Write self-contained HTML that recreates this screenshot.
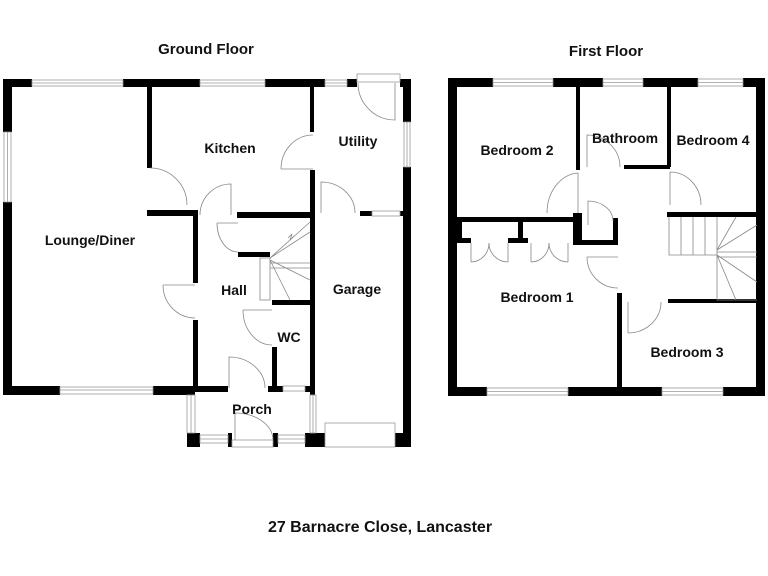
<!DOCTYPE html>
<html><head><meta charset="utf-8"><style>
html,body{margin:0;padding:0;background:#fff;}
svg{display:block}
text{font-family:"Liberation Sans",Arial,sans-serif;font-weight:bold;fill:#111;}
</style></head><body>
<svg width="768" height="576" viewBox="0 0 768 576" xmlns="http://www.w3.org/2000/svg">
<g fill="#000">
<rect x="3" y="79" width="29" height="8"/>
<rect x="123" y="79" width="77" height="8"/>
<rect x="265" y="79" width="60" height="8"/>
<rect x="347" y="79" width="10" height="8"/>
<rect x="400" y="79" width="11" height="8"/>
<rect x="3" y="79" width="9" height="53"/>
<rect x="3" y="202" width="9" height="193"/>
<rect x="3" y="386" width="57" height="9"/>
<rect x="153" y="386" width="42" height="9"/>
<rect x="195" y="386" width="33" height="6"/>
<rect x="268" y="386" width="15" height="6"/>
<rect x="305" y="386" width="8" height="6"/>
<rect x="403" y="79" width="8" height="43"/>
<rect x="403" y="167" width="8" height="280"/>
<rect x="187" y="433" width="13" height="14"/>
<rect x="228" y="433" width="4" height="14"/>
<rect x="273" y="433" width="5" height="14"/>
<rect x="305" y="433" width="20" height="14"/>
<rect x="395" y="433" width="16" height="14"/>
<rect x="147" y="87" width="5" height="81"/>
<rect x="147" y="210" width="48" height="6"/>
<rect x="193" y="210" width="5" height="73"/>
<rect x="193" y="320" width="5" height="70"/>
<rect x="310" y="87" width="4" height="45"/>
<rect x="310" y="170" width="5" height="277"/>
<rect x="237" y="212" width="78" height="6"/>
<rect x="238" y="252" width="32" height="5"/>
<rect x="272" y="300" width="43" height="5"/>
<rect x="272" y="347" width="5" height="43"/>
<rect x="360" y="211" width="12" height="5"/>
<rect x="400" y="211" width="5" height="5"/>
<rect x="448" y="78" width="45" height="9"/>
<rect x="553" y="78" width="50" height="9"/>
<rect x="643" y="78" width="55" height="9"/>
<rect x="743" y="78" width="22" height="9"/>
<rect x="448" y="78" width="9" height="318"/>
<rect x="756" y="78" width="9" height="318"/>
<rect x="448" y="387" width="39" height="9"/>
<rect x="568" y="387" width="94" height="9"/>
<rect x="723" y="387" width="42" height="9"/>
<rect x="576" y="87" width="4" height="83"/>
<rect x="667" y="87" width="4" height="80"/>
<rect x="624" y="165" width="46" height="4"/>
<rect x="448" y="217" width="132" height="5"/>
<rect x="457" y="217" width="5" height="26"/>
<rect x="457" y="238" width="14" height="5"/>
<rect x="518" y="217" width="5" height="25"/>
<rect x="508" y="238" width="20" height="5"/>
<rect x="573" y="213" width="9" height="32"/>
<rect x="573" y="240" width="45" height="5"/>
<rect x="613" y="218" width="5" height="27"/>
<rect x="667" y="212" width="90" height="5"/>
<rect x="668" y="299" width="89" height="4"/>
<rect x="617" y="293" width="5" height="103"/>
</g>
<g fill="#fff" stroke="#999" stroke-width="0.8">
<rect x="32" y="80" width="91" height="6"/><line x1="32" y1="83" x2="123" y2="83"/>
<rect x="200" y="80" width="65" height="6"/><line x1="200" y1="83" x2="265" y2="83"/>
<rect x="325" y="80" width="22" height="6"/><line x1="325" y1="83" x2="347" y2="83"/>
<rect x="357" y="74" width="43" height="8"/>
<rect x="4" y="132" width="7" height="70"/><line x1="7.5" y1="132" x2="7.5" y2="202"/>
<rect x="404" y="122" width="6" height="45"/><line x1="407" y1="122" x2="407" y2="167"/>
<rect x="60" y="387" width="93" height="7"/><line x1="60" y1="390" x2="153" y2="390"/>
<rect x="283" y="386" width="22" height="5"/>
<rect x="372" y="211" width="28" height="5"/>
<rect x="187" y="395" width="8" height="38"/><line x1="191" y1="395" x2="191" y2="433"/>
<rect x="310" y="395" width="6" height="38"/><line x1="313" y1="395" x2="313" y2="433"/>
<rect x="200" y="435" width="28" height="8"/><line x1="200" y1="439" x2="228" y2="439"/>
<rect x="278" y="435" width="27" height="8"/><line x1="278" y1="439" x2="305" y2="439"/>
<rect x="232" y="440" width="41" height="7"/>
<rect x="325" y="423" width="70" height="24"/>
<rect x="493" y="79" width="60" height="7"/><line x1="493" y1="82.5" x2="553" y2="82.5"/>
<rect x="603" y="79" width="40" height="7"/><line x1="603" y1="82.5" x2="643" y2="82.5"/>
<rect x="698" y="79" width="45" height="7"/><line x1="698" y1="82.5" x2="743" y2="82.5"/>
<rect x="487" y="388" width="81" height="7"/><line x1="487" y1="391.5" x2="568" y2="391.5"/>
<rect x="662" y="388" width="61" height="7"/><line x1="662" y1="391.5" x2="723" y2="391.5"/>
</g>
<g fill="none" stroke="#888" stroke-width="0.8">
<path d="M150 168 A37 37 0 0 1 187 205"/>
<path d="M200 215 A31 31 0 0 1 231 184 L231 215"/>
<path d="M281 169 A32 34 0 0 1 313 135 M281 169 L313 169"/>
<path d="M321 213 L321 182 A34 31 0 0 1 355 213"/>
<path d="M395 83 L395 120 A37 37 0 0 1 358 83"/>
<path d="M217 223 L238 223 M217 223 A21 29 0 0 0 238 252"/>
<path d="M163 285 L195 285 M163 285 A32 33 0 0 0 195 318"/>
<path d="M243 310 L272 310 M243 310 A29 35 0 0 0 272 345"/>
<path d="M229 388 L229 357 A36 31 0 0 1 265 388"/>
<path d="M235 440 L235 413 A38 27 0 0 1 273 440"/>
<rect x="260" y="258" width="10" height="42"/>
<path d="M270 258 L310 232 M270 258 L310 222 M270 263 L310 263 M270 268 L310 268 M270 260 L310 280 M270 260 L290 300"/>
<path d="M288 238 L292 234 L290 240 L294 236"/>
<path d="M578 213 L578 173 M578 173 A33 40 0 0 0 547 213"/>
<path d="M587 167 L587 135 A33 32 0 0 1 620 167"/>
<path d="M670 172 L670 205 M670 172 A31 33 0 0 1 701 205"/>
<path d="M588 225 L588 201 A25 20 0 0 1 613 221"/>
<path d="M587 257 L618 257 M587 257 A31 31 0 0 0 618 288"/>
<path d="M628 302 L628 333 M628 333 A33 31 0 0 0 661 302"/>
<path d="M471 243 L471 262 M471 262 A18 19 0 0 0 489 243 M508 243 L508 262 M508 262 A19 19 0 0 1 489 243"/>
<path d="M531 243 L531 262 M531 262 A18 19 0 0 0 549 243 M568 243 L568 262 M568 262 A19 19 0 0 1 549 243"/>
<path d="M669 217 L669 255 L717 255 M681 217 L681 255 M693 217 L693 255 M705 217 L705 255 M717 217 L717 300 L757 300"/>
<path d="M717 250 L736 217 M717 250 L757 225 M717 252 L757 252 M717 257 L757 257 M717 255 L757 282 M717 255 L736 300"/>
</g>
<g font-size="14">
<text x="206" y="54" text-anchor="middle" font-size="15">Ground Floor</text>
<text x="606" y="56" text-anchor="middle" font-size="15">First Floor</text>
<text x="380" y="532" text-anchor="middle" font-size="16">27 Barnacre Close, Lancaster</text>
<text x="230" y="153" text-anchor="middle">Kitchen</text>
<text x="358" y="146" text-anchor="middle">Utility</text>
<text x="90" y="245" text-anchor="middle">Lounge/Diner</text>
<text x="234" y="295" text-anchor="middle">Hall</text>
<text x="357" y="294" text-anchor="middle">Garage</text>
<text x="289" y="342" text-anchor="middle">WC</text>
<text x="252" y="414" text-anchor="middle">Porch</text>
<text x="517" y="155" text-anchor="middle">Bedroom 2</text>
<text x="625" y="143" text-anchor="middle">Bathroom</text>
<text x="713" y="145" text-anchor="middle">Bedroom 4</text>
<text x="537" y="302" text-anchor="middle">Bedroom 1</text>
<text x="687" y="357" text-anchor="middle">Bedroom 3</text>
</g>
</svg>
</body></html>
